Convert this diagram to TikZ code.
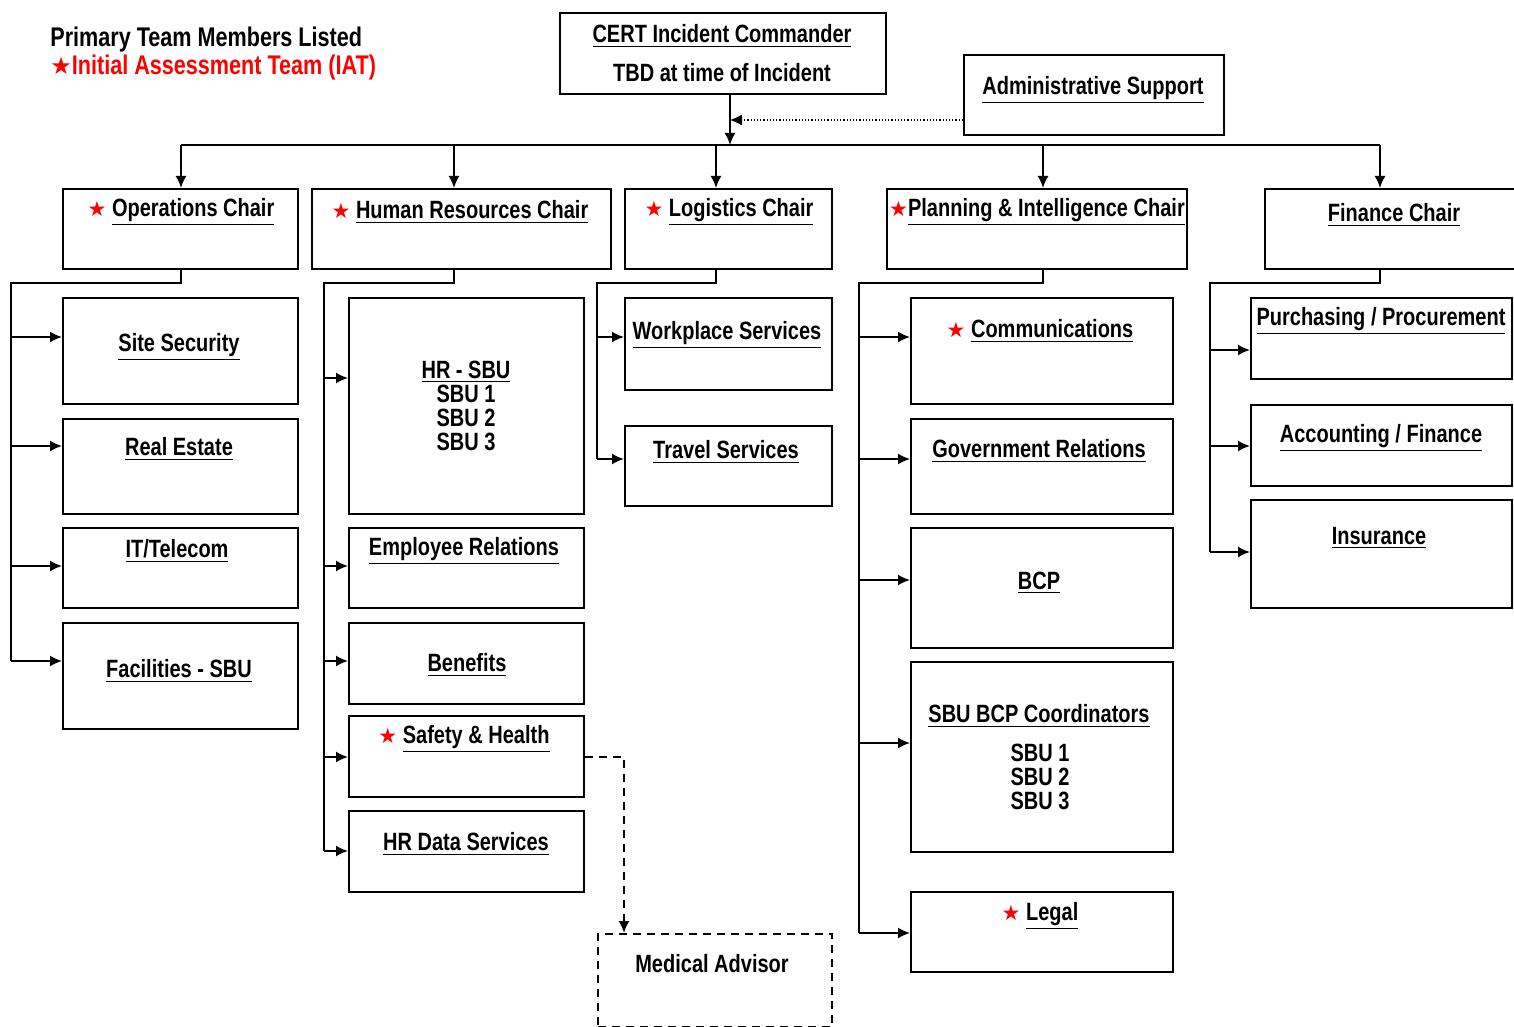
\documentclass[tikz,border=0pt]{standalone}
\usepackage{fontspec}
\setmainfont{Liberation Sans}[FakeStretch=0.8]
\newfontfamily\dejavu{DejaVu Sans}
\usetikzlibrary{arrows.meta}
\newcommand\st{{\color{red}\dejavu\mdseries\fontsize{10.5}{10}\selectfont ★}}
\newcommand\boxat[6][]{\node[box,#1,minimum width={(#5-#3)*0.5pt},minimum height={(#6-#4)*0.5pt}] (#2) at (#3,#4) {};}
\newcommand\brn[3]{\draw[arr] (#1,#3) -- (#2.west |- #1,#3);}
\tikzset{
  box/.style={draw, line width=0.9pt, inner sep=0pt, anchor=north west},
  txt/.style={inner sep=0pt, font=\fontsize{12.5}{12}\selectfont\bfseries, align=center, yshift=-1.5pt},
  ln/.style={line width=0.9pt},
  tip/.style={-{Latex[length=6pt,width=5.5pt]}},
  arr/.style={line width=0.9pt, tip}
}
\begin{document}
\begin{tikzpicture}[x=0.5pt,y=-0.5pt]
\useasboundingbox (0,0) rectangle (1514,1027);
% legend
\node[txt,anchor=west,font=\fontsize{13.5}{14}\selectfont\bfseries] (leg1) at (50,37) {Primary Team Members Listed};
\node[txt,anchor=west,font=\fontsize{13.5}{14}\selectfont\bfseries,text=red] (leg2) at (50,65) {{\dejavu\mdseries\fontsize{12}{12}\selectfont ★}Initial Assessment Team (IAT)};
% top
\boxat{cert}{559}{12}{885}{93}
\node[txt] (certt) at (722,33) {\underline{CERT Incident Commander}};
\node[txt] (certb) at (722,70) {TBD at time of Incident};
\boxat{admin}{963}{54}{1223}{134}
\node[txt] (admint) at (1093,87) {\underline{Administrative Support}};
% chairs
\boxat{ops}{62}{188}{297}{268}
\node[txt] (opst) at (181,209) {\st\ \underline{Operations Chair}};
\boxat{hr}{311}{188}{610}{268}
\node[txt] (hrt) at (460,209) {\st\ \underline{Human Resources Chair}};
\boxat{log}{624}{188}{831}{268}
\node[txt] (logt) at (729,209) {\st\ \underline{Logistics Chair}};
\boxat{plan}{886}{188}{1186}{268}
\node[txt] (plant) at (1037,209) {\st\underline{Planning \& Intelligence Chair}};
\boxat{fin}{1264}{188}{1518}{268}
\node[txt] (fint) at (1394,212) {\underline{Finance Chair}};
% operations
\boxat{site}{62}{297}{297}{403}
\node[txt] (sitet) at (179,344) {\underline{Site Security}};
\boxat{real}{62}{418}{297}{513}
\node[txt] (realt) at (179,446) {\underline{Real Estate}};
\boxat{it}{62}{527}{297}{607}
\node[txt] (itt) at (177,548) {\underline{IT/Telecom}};
\boxat{fac}{62}{622}{297}{728}
\node[txt] (fact) at (179,668) {\underline{Facilities - SBU}};
% HR
\boxat{hrsbu}{348}{297}{583}{513}
\node[txt] (hrsbut) at (466,403) {\underline{HR - SBU}\\SBU 1\\SBU 2\\SBU 3};
\boxat{emp}{348}{527}{583}{607}
\node[txt] (empt) at (464,548) {\underline{Employee Relations}};
\boxat{ben}{348}{622}{583}{703}
\node[txt] (bent) at (467,662) {\underline{Benefits}};
\boxat{safe}{348}{715}{583}{796}
\node[txt] (safet) at (464,736) {\st\ \underline{Safety \& Health}};
\boxat{hrd}{348}{810}{583}{891}
\node[txt] (hrdt) at (466,841) {\underline{HR Data Services}};
\boxat[dash pattern=on 4pt off 3pt]{med}{597}{933}{831}{1026}
\node[txt] (medt) at (712,961) {Medical Advisor};
% logistics
\boxat{work}{624}{297}{831}{389}
\node[txt] (workt) at (727,332) {\underline{Workplace Services}};
\boxat{trav}{624}{425}{831}{505}
\node[txt] (travt) at (726,449) {\underline{Travel Services}};
% planning
\boxat{comm}{910}{297}{1172}{403}
\node[txt] (commt) at (1040,328) {\st\ \underline{Communications}};
\boxat{gov}{910}{418}{1172}{513}
\node[txt] (govt) at (1039,448) {\underline{Government Relations}};
\boxat{bcp}{910}{527}{1172}{647}
\node[txt] (bcpt) at (1039,580) {\underline{BCP}};
\boxat{sbc}{910}{661}{1172}{851}
\node[txt] (sbct) at (1039,713) {\underline{SBU BCP Coordinators}};
\node[txt] (sbcl) at (1040,774) {SBU 1\\SBU 2\\SBU 3};
\boxat{legal}{910}{891}{1172}{971}
\node[txt] (legalt) at (1040,913) {\st\ \underline{Legal}};
% finance
\boxat{pur}{1250}{297}{1511}{378}
\node[txt] (purt) at (1381,318) {\underline{Purchasing / Procurement}};
\boxat{acc}{1250}{404}{1511}{485}
\node[txt] (acct) at (1381,435) {\underline{Accounting / Finance}};
\boxat{ins}{1250}{499}{1511}{607}
\node[txt] (inst) at (1379,535) {\underline{Insurance}};
% top connectors
\coordinate (cb) at (730,145);
\draw[arr] (cert.south -| cb) -- (cb);
\draw[densely dotted, line width=0.6pt, tip] (admin.west |- 0,120) -- (cb |- 0,120);
\coordinate (d1) at (181,145);
\coordinate (d2) at (454,145);
\coordinate (d3) at (716,145);
\coordinate (d4) at (1043,145);
\coordinate (d5) at (1380,145);
\draw[ln] (d1) -- (d5);
\draw[arr] (d1) -- (d1 |- ops.north);
\draw[arr] (d2) -- (d2 |- hr.north);
\draw[arr] (d3) -- (d3 |- log.north);
\draw[arr] (d4) -- (d4 |- plan.north);
\draw[arr] (d5) -- (d5 |- fin.north);
% operations tree
\draw[ln] (d1 |- ops.south) -- (181,283) -- (11,283) -- (11,661);
\brn{11}{site}{337}
\brn{11}{real}{446}
\brn{11}{it}{566}
\brn{11}{fac}{661}
% HR tree
\draw[ln] (d2 |- hr.south) -- (454,283) -- (324,283) -- (324,851);
\brn{324}{hrsbu}{378}
\brn{324}{emp}{566}
\brn{324}{ben}{661}
\brn{324}{safe}{757}
\brn{324}{hrd}{851}
\draw[line width=0.9pt, dash pattern=on 4pt off 3pt, tip] (safe.east |- 0,757) -- (624,757) -- (med.north -| 624,757);
% logistics tree
\draw[ln] (d3 |- log.south) -- (716,283) -- (597,283) -- (597,459);
\brn{597}{work}{337}
\brn{597}{trav}{459}
% planning tree
\draw[ln] (d4 |- plan.south) -- (1043,283) -- (859,283) -- (859,933);
\brn{859}{comm}{337}
\brn{859}{gov}{459}
\brn{859}{bcp}{580}
\brn{859}{sbc}{743}
\brn{859}{legal}{933}
% finance tree
\draw[ln] (d5 |- fin.south) -- (1380,283) -- (1210,283) -- (1210,552);
\brn{1210}{pur}{350}
\brn{1210}{acc}{446}
\brn{1210}{ins}{552}
\end{tikzpicture}
\end{document}
